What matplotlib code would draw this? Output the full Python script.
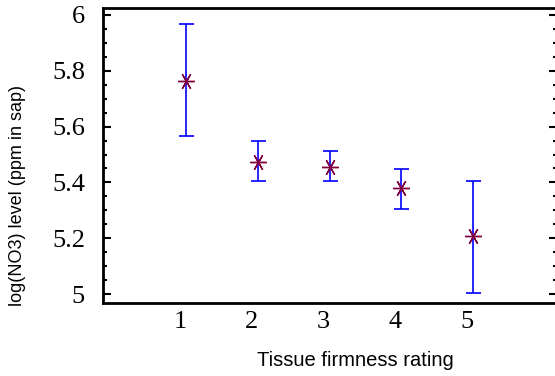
import matplotlib
matplotlib.use("Agg")
import matplotlib.pyplot as plt
import matplotlib.transforms as mtransforms
import numpy as np

ratings = [1, 2, 3, 4, 5]
means = [5.765, 5.475, 5.455, 5.379, 5.209]
upper = [5.968, 5.547, 5.511, 5.449, 5.406]
lower = [5.567, 5.406, 5.406, 5.306, 5.003]
yticks = [5, 5.2, 5.4, 5.6, 5.8, 6]
ytick_labels = ["5", "5.2", "5.4", "5.6", "5.8", "6"]

dpi = 100
fig = plt.figure(figsize=(5.55, 3.76), dpi=dpi)
ax = fig.add_axes([103/555, 73/376, 454/555, 295/376])

m = np.array(means)
yerr = np.vstack([m - np.array(lower), np.array(upper) - m])
ax.errorbar(ratings, means, yerr=yerr, fmt='none', ecolor='#0000ff',
            elinewidth=1.2, capsize=5.4, capthick=1.2, zorder=2)
ax.plot(ratings, means, linestyle='none', marker=(6, 2, 90), markersize=12,
        markeredgecolor='#800040', markerfacecolor='#800040', markeredgewidth=1.0, zorder=3)

ax.set_xlim(-0.157, 6.17)
ax.set_ylim(4.968, 6.025)

ax.set_xticks(ratings)
ax.set_xticklabels([str(r) for r in ratings], family='Liberation Serif', fontsize=19)
ax.set_yticks(yticks)
ax.set_yticklabels(ytick_labels, family='Liberation Serif', fontsize=19)
ax.set_yticks(np.arange(5, 6.0001, 0.05), minor=True)
ax.tick_params(axis='x', which='both', length=0, pad=6)
ax.tick_params(axis='y', which='major', direction='in', length=6, width=1.5,
               left=True, right=True, pad=13)
ax.tick_params(axis='y', which='minor', direction='in', length=3, width=1.5,
               left=True, right=True)

offset = mtransforms.ScaledTranslation(-6/dpi, 0, fig.dpi_scale_trans)
for lab in ax.get_xticklabels():
    lab.set_transform(lab.get_transform() + offset)

for s in ax.spines.values():
    s.set_linewidth(2)

ax.set_xlabel("Tissue firmness rating", family='Liberation Sans', fontsize=14.5)
ax.set_ylabel("log(NO3) level (ppm in sap)", family='Liberation Sans', fontsize=13)
ax.xaxis.set_label_coords((355-103)/454, (303-351)/295)
ax.yaxis.set_label_coords((26-103)/454, (303-196)/295)

fig.savefig("out.png", dpi=dpi)
